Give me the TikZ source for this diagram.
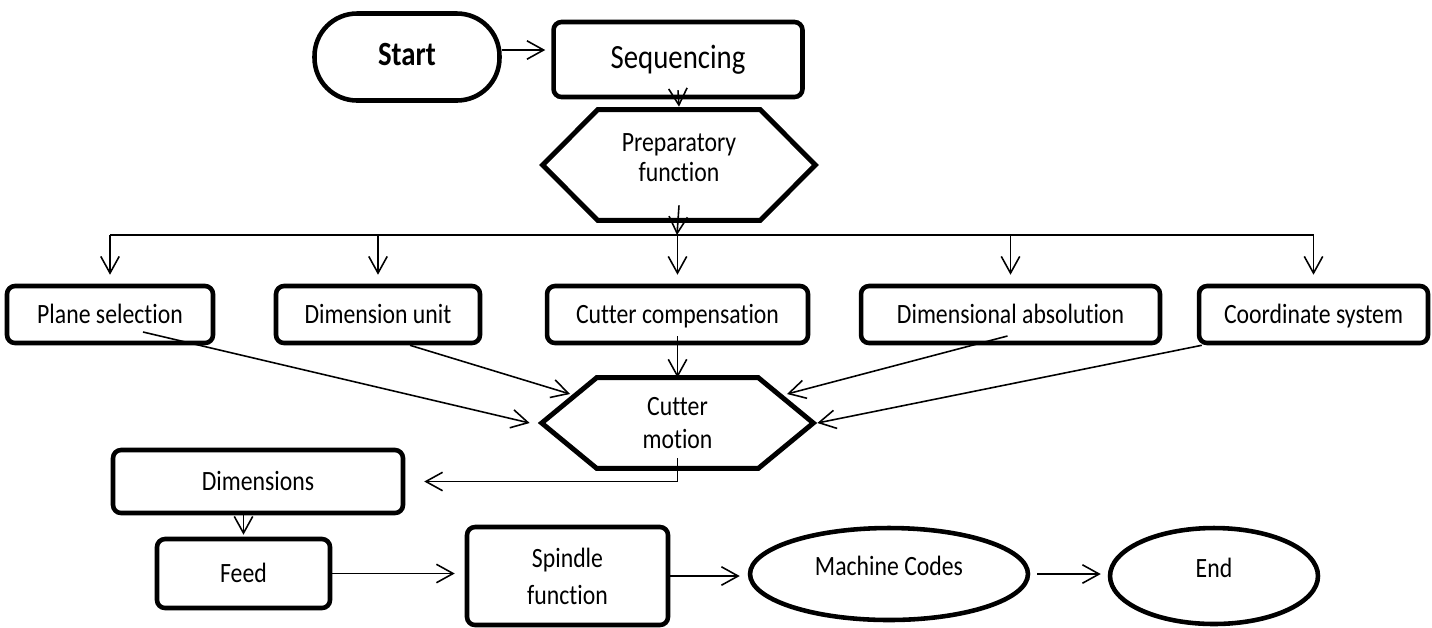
\documentclass[tikz,border=0pt]{standalone}
\usepackage{fontspec}
\setmainfont{Carlito}[FakeStretch=0.85, Ligatures=CommonOff]
\usetikzlibrary{arrows.meta,shapes.geometric}

\newcommand{\hexagon}[2]{%
  \draw[line width=2.8pt] (#1.west) -- ([xshift=#2]#1.north west) -- ([xshift=-#2]#1.north east)
    -- (#1.east) -- ([xshift=-#2]#1.south east) -- ([xshift=#2]#1.south west) -- cycle;}

\begin{document}
\begin{tikzpicture}[x=0.02cm, y=0.02cm,
    every node/.style={font=\fontsize{15.9pt}{19pt}\selectfont, align=center, inner sep=0pt},
    box/.style={draw, line width=2.6pt, rounded corners=0.16cm},
    line/.style={text height=13.2pt, text depth=3pt},
    oval/.style={draw, ellipse, line width=2.6pt, text depth=9pt},
    link/.style={line width=0.9pt, -{Straight Barb[length=9.5pt,width=10.5pt]}}]
\useasboundingbox (0,0) rectangle (1432,-627);

\node[box, line, rounded corners=0.85cm, minimum width=3.7cm, minimum height=1.74cm,
      font=\fontsize{19.3pt}{23pt}\selectfont\bfseries] (start) at (407,-57) {Start};
\node[box, minimum width=4.98cm, minimum height=1.5cm,
      font=\fontsize{19.3pt}{23pt}\selectfont] (seq) at (678,-59.5) {Sequencing};
\node[minimum width=5.44cm, minimum height=2.2cm, text depth=9pt,
      font=\fontsize{15.9pt}{17pt}\selectfont] (prep) at (679,-165) {Preparatory\\function};
\hexagon{prep}{1.1cm}

\node[box, line, minimum width=4.12cm, minimum height=1.14cm] (plane) at (110,-314.5) {Plane selection};
\node[box, line, minimum width=4.08cm, minimum height=1.14cm] (dimunit) at (378,-314.5) {Dimension unit};
\node[box, line, minimum width=5.22cm, minimum height=1.14cm] (comp) at (677.5,-314.5) {Cutter compensation};
\node[box, line, minimum width=5.98cm, minimum height=1.14cm] (dimabs) at (1010.5,-314.5) {Dimensional absolution};
\node[box, line, minimum width=4.58cm, minimum height=1.14cm] (coord) at (1313.5,-314.5) {Coordinate system};

\node[minimum width=5.42cm, minimum height=1.8cm] (motion) at (677.5,-423) {Cutter\\motion};
\hexagon{motion}{1.1cm}

\node[box, line, minimum width=5.8cm, minimum height=1.26cm] (dims) at (258,-481.5) {Dimensions};
\node[box, line, minimum width=3.46cm, minimum height=1.38cm] (feed) at (243.5,-573.5) {Feed};
\node[box, minimum width=4.02cm, minimum height=1.96cm,
      font=\fontsize{15.9pt}{21pt}\selectfont] (spindle) at (567.5,-576) {Spindle\\function};
\node[oval, minimum width=5.56cm, minimum height=1.84cm] (mc) at (889,-574) {Machine Codes};
\node[oval, minimum width=4.16cm, minimum height=1.92cm] (fin) at (1214,-576) {End};

\coordinate (bus) at (677,-235);

\draw[link] ([yshift=0.14cm]start.east) -- ([xshift=-0.12cm,yshift=0.19cm]seq.west);
\draw[link] ([yshift=0.18cm]seq.south) -- ([yshift=0.06cm]prep.north);
\draw[link] ([yshift=0.3cm]prep.south) -- (bus);
\draw[line width=0.9pt] (plane.north |- bus) -- (coord.north |- bus);
\foreach \n in {plane,dimunit,comp,dimabs,coord}
  \draw[link, shorten >=0.18cm] (\n.north |- bus) -- (\n.north);

\draw[link] ([xshift=0.66cm,yshift=-0.35cm]plane.center) -- ([xshift=-0.24cm]motion.west);
\draw[link] ([xshift=0.64cm]dimunit.south) -- ([xshift=-2.15cm,yshift=0.58cm]motion.center);
\draw[link] ([yshift=-0.43cm]comp.center) -- (motion.north);
\draw[link] ([xshift=-0.06cm,yshift=-0.43cm]dimabs.center) -- ([xshift=2.19cm,yshift=0.58cm]motion.center);
\draw[link] ([xshift=0.1cm]coord.south west) -- ([xshift=0.08cm]motion.east);

\draw[link] ([yshift=0.2cm]motion.south) |- ([xshift=0.38cm]dims.east);
\draw[link, shorten >=0.04cm] (feed.north |- dims.south) -- (feed.north);
\draw[link, shorten >=0.2cm] (feed.east) -- (feed.east -| spindle.west);
\draw[link, shorten >=0.16cm] (spindle.east) -- (spindle.east -| mc.west);
\draw[link, shorten <=0.14cm, shorten >=0.14cm] (mc.east) -- (mc.east -| fin.west);
\end{tikzpicture}
\end{document}
